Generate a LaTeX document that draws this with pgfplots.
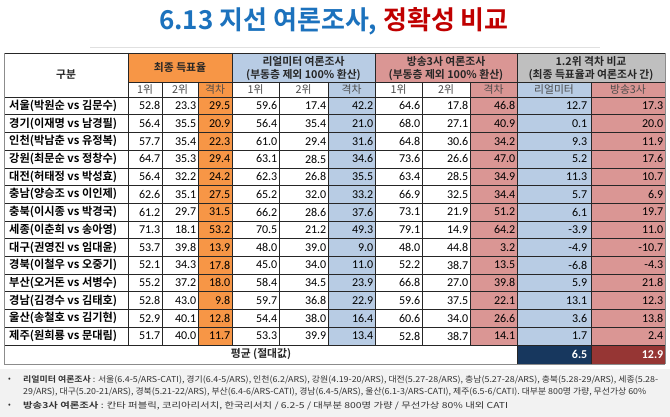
\documentclass[border=0pt]{standalone}
\usepackage{fontspec}
\setmainfont{Noto Sans CJK KR}[BoldFont={Noto Sans CJK KR Bold}]
\newfontfamily\numf{Carlito}
\usepackage{pgfplots}
\pgfplotsset{compat=1.18}
\usepackage{pgfplotstable}

\definecolor{orng}{HTML}{F79646}
\definecolor{lblue}{HTML}{B8CCE4}
\definecolor{pinkc}{HTML}{DA9694}
\definecolor{hgray}{HTML}{BFBFBF}
\definecolor{navy}{HTML}{17375E}
\definecolor{dred}{HTML}{963634}
\definecolor{tblue}{HTML}{1C72BD}
\definecolor{tred}{HTML}{C00000}
\definecolor{notebg}{HTML}{F2F2F2}

% r = row index, a = final result, b = Realmeter, c = broadcasters, d = gap difference
\pgfplotstableread[col sep=comma]{
r,name,a1,a2,ag,b1,b2,bg,c1,c2,cg,d1,d2
0,서울(박원순 vs 김문수),52.8,23.3,29.5,59.6,17.4,42.2,64.6,17.8,46.8,12.7,17.3
1,경기(이재명 vs 남경필),56.4,35.5,20.9,56.4,35.4,21.0,68.0,27.1,40.9,0.1,20.0
2,인천(박남춘 vs 유정복),57.7,35.4,22.3,61.0,29.4,31.6,64.8,30.6,34.2,9.3,11.9
3,강원(최문순 vs 정창수),64.7,35.3,29.4,63.1,28.5,34.6,73.6,26.6,47.0,5.2,17.6
4,대전(허태정 vs 박성효),56.4,32.2,24.2,62.3,26.8,35.5,63.4,28.5,34.9,11.3,10.7
5,충남(양승조 vs 이인제),62.6,35.1,27.5,65.2,32.0,33.2,66.9,32.5,34.4,5.7,6.9
6,충북(이시종 vs 박경국),61.2,29.7,31.5,66.2,28.6,37.6,73.1,21.9,51.2,6.1,19.7
7,세종(이춘희 vs 송아영),71.3,18.1,53.2,70.5,21.2,49.3,79.1,14.9,64.2,-3.9,11.0
8,대구(권영진 vs 임대윤),53.7,39.8,13.9,48.0,39.0,9.0,48.0,44.8,3.2,-4.9,-10.7
9,경북(이철우 vs 오중기),52.1,34.3,17.8,45.0,34.0,11.0,52.2,38.7,13.5,-6.8,-4.3
10,부산(오거돈 vs 서병수),55.2,37.2,18.0,58.4,34.5,23.9,66.8,27.0,39.8,5.9,21.8
11,경남(김경수 vs 김태호),52.8,43.0,9.8,59.7,36.8,22.9,59.6,37.5,22.1,13.1,12.3
12,울산(송철호 vs 김기현),52.9,40.1,12.8,54.4,38.0,16.4,60.6,34.0,26.6,3.6,13.8
13,제주(원희룡 vs 문대림),51.7,40.0,11.7,53.3,39.9,13.4,52.8,38.7,14.1,1.7,2.4
}\polls

\pgfplotsset{
  numcol/.style={draw=none, mark=none, forget plot, nodes near coords,
    point meta=explicit symbolic,
    nodes near coords style={anchor=east, inner sep=1.5pt, text=black,
      font=\numf\fontsize{12}{13}\selectfont}},
}
\newcommand{\rowy}{105.85+17.7*\thisrow{r}}

\begin{document}
\begin{tikzpicture}
\begin{axis}[scale only axis, width=670pt, height=417pt,
  xmin=0, xmax=670, ymin=0, ymax=417, y dir=reverse,
  hide axis, clip=false]

\fill[white] (axis cs:0,0) rectangle (axis cs:670,417);
\draw[black!12] (axis cs:90,47) -- (axis cs:600,47);
\node[font=\bfseries\fontsize{26}{28}\selectfont] at (axis cs:334,21)
  {\textcolor{tblue}{6.13 지선 여론조사,} \textcolor{tred}{정확성 비교}};

% cell shading
\fill[orng] (axis cs:128,53) rectangle (axis cs:232,82);
\fill[orng] (axis cs:198,82) rectangle (axis cs:232,344.8);
\fill[lblue] (axis cs:232,53) rectangle (axis cs:375,82);
\fill[lblue] (axis cs:328,82) rectangle (axis cs:375,344.8);
\fill[pinkc] (axis cs:375,53) rectangle (axis cs:517,82);
\fill[pinkc] (axis cs:470,82) rectangle (axis cs:517,344.8);
\fill[hgray] (axis cs:517,53) rectangle (axis cs:665,82);
\fill[lblue] (axis cs:517,82) rectangle (axis cs:591,344.8);
\fill[pinkc] (axis cs:591,82) rectangle (axis cs:665,344.8);
\fill[navy] (axis cs:517,344.8) rectangle (axis cs:591,364);
\fill[dred] (axis cs:591,344.8) rectangle (axis cs:665,364);
\fill[notebg] (axis cs:0,369) rectangle (axis cs:670,417);

% grid
\draw[black!85, line width=0.5pt] (axis cs:4,53) -- (axis cs:665,53);
\draw[black!85, line width=0.5pt] (axis cs:128,82) -- (axis cs:665,82);
\pgfplotsinvokeforeach{0,...,14}{
  \draw[black!85, line width=0.5pt] (axis cs:4,{97+17.7*#1}) -- (axis cs:665,{97+17.7*#1});
}
\draw[black!45, line width=0.7pt] (axis cs:4,364) -- (axis cs:665,364);
\draw[black!45, line width=0.7pt] (axis cs:4,53) -- (axis cs:4,364);
\pgfplotsinvokeforeach{162,198,279,328,422,470}{
  \draw[black!85, line width=0.5pt] (axis cs:#1,82) -- (axis cs:#1,344.8);
}
\pgfplotsinvokeforeach{128,232,375}{
  \draw[black!85, line width=0.5pt] (axis cs:#1,53) -- (axis cs:#1,344.8);
}
\draw[black!85, line width=0.5pt] (axis cs:517,53) -- (axis cs:517,364);
\draw[black!85, line width=0.5pt] (axis cs:591,82) -- (axis cs:591,364);
\draw[black!45, line width=0.7pt] (axis cs:665,53) -- (axis cs:665,364);

% headers
\begin{scope}[every node/.style={font=\bfseries\fontsize{10.8}{12}\selectfont, text=black!85}]
\node at (axis cs:66,75) {구분};
\node at (axis cs:180,67) {최종 득표율};
\node at (axis cs:303.5,61) {리얼미터 여론조사};
\node at (axis cs:303.5,75) {(부동층 제외 100\% 환산)};
\node at (axis cs:446,61) {방송3사 여론조사};
\node at (axis cs:446,75) {(부동층 제외 100\% 환산)};
\node at (axis cs:591,61) {1.2위 격차 비교};
\node at (axis cs:591,75) {(최종 득표율과 여론조사 간)};
\node at (axis cs:261,354.4) {평균 (절대값)};
\end{scope}
\begin{scope}[every node/.style={font=\fontsize{10.8}{12}\selectfont, text=black!70}]
\node at (axis cs:145,89.5) {1위};
\node at (axis cs:180,89.5) {2위};
\node at (axis cs:215,89.5) {격차};
\node at (axis cs:255.5,89.5) {1위};
\node at (axis cs:303.5,89.5) {2위};
\node at (axis cs:351.5,89.5) {격차};
\node at (axis cs:398.5,89.5) {1위};
\node at (axis cs:446,89.5) {2위};
\node at (axis cs:493.5,89.5) {격차};
\node at (axis cs:554,89.5) {리얼미터};
\node at (axis cs:628,89.5) {방송3사};
\end{scope}

% region names
\addplot[draw=none, mark=none, forget plot, nodes near coords,
  point meta=explicit symbolic,
  nodes near coords style={anchor=west, inner sep=0pt, text=black,
    font=\bfseries\fontsize{11.2}{12}\selectfont}]
  table[x expr=9, y expr=\rowy, meta=name] {\polls};

% values
\addplot[numcol] table[x expr=162, y expr=\rowy, meta=a1] {\polls};
\addplot[numcol] table[x expr=198, y expr=\rowy, meta=a2] {\polls};
\addplot[numcol] table[x expr=232, y expr=\rowy, meta=ag] {\polls};
\addplot[numcol] table[x expr=279, y expr=\rowy, meta=b1] {\polls};
\addplot[numcol] table[x expr=328, y expr=\rowy, meta=b2] {\polls};
\addplot[numcol] table[x expr=375, y expr=\rowy, meta=bg] {\polls};
\addplot[numcol] table[x expr=422, y expr=\rowy, meta=c1] {\polls};
\addplot[numcol] table[x expr=470, y expr=\rowy, meta=c2] {\polls};
\addplot[numcol] table[x expr=517, y expr=\rowy, meta=cg] {\polls};
\addplot[numcol] table[x expr=589, y expr=\rowy, meta=d1] {\polls};
\addplot[numcol] table[x expr=665, y expr=\rowy, meta=d2] {\polls};

% average of absolute gap differences
\addplot[numcol, nodes near coords style={text=white, font=\numf\bfseries\fontsize{12}{13}\selectfont}]
  coordinates {(589,354.4) [6.5] (665,354.4) [12.9]};

% notes
\begin{scope}[every node/.style={anchor=west, inner sep=0pt, text=black!80, font=\fontsize{8}{9}\selectfont}]
\node at (axis cs:8,380) {•};
\node at (axis cs:23,380) {\resizebox{635pt}{6.9pt}{\textbf{리얼미터 여론조사} : 서울(6.4-5/ARS-CATI), 경기(6.4-5/ARS), 인천(6.2/ARS), 강원(4.19-20/ARS), 대전(5.27-28/ARS), 충남(5.27-28/ARS), 충북(5.28-29/ARS), 세종(5.28-}};
\node at (axis cs:23,391.5) {\resizebox{623pt}{6.9pt}{29/ARS), 대구(5.20-21/ARS), 경북(5.21-22/ARS), 부산(6.4-6/ARS-CATI), 경남(6.4-5/ARS), 울산(6.1-3/ARS-CATI), 제주(6.5-6/CATI). 대부분 800명 가량, 무선가상 60\%}};
\node at (axis cs:8,406) {•};
\node at (axis cs:23,406) {\resizebox{485pt}{6.9pt}{\textbf{방송3사 여론조사} : 칸타 퍼블릭, 코리아리서치, 한국리서치 / 6.2-5 / 대부분 800명 가량 / 무선가상 80\% 내외 CATI}};
\end{scope}
\end{axis}
\end{tikzpicture}
\end{document}
